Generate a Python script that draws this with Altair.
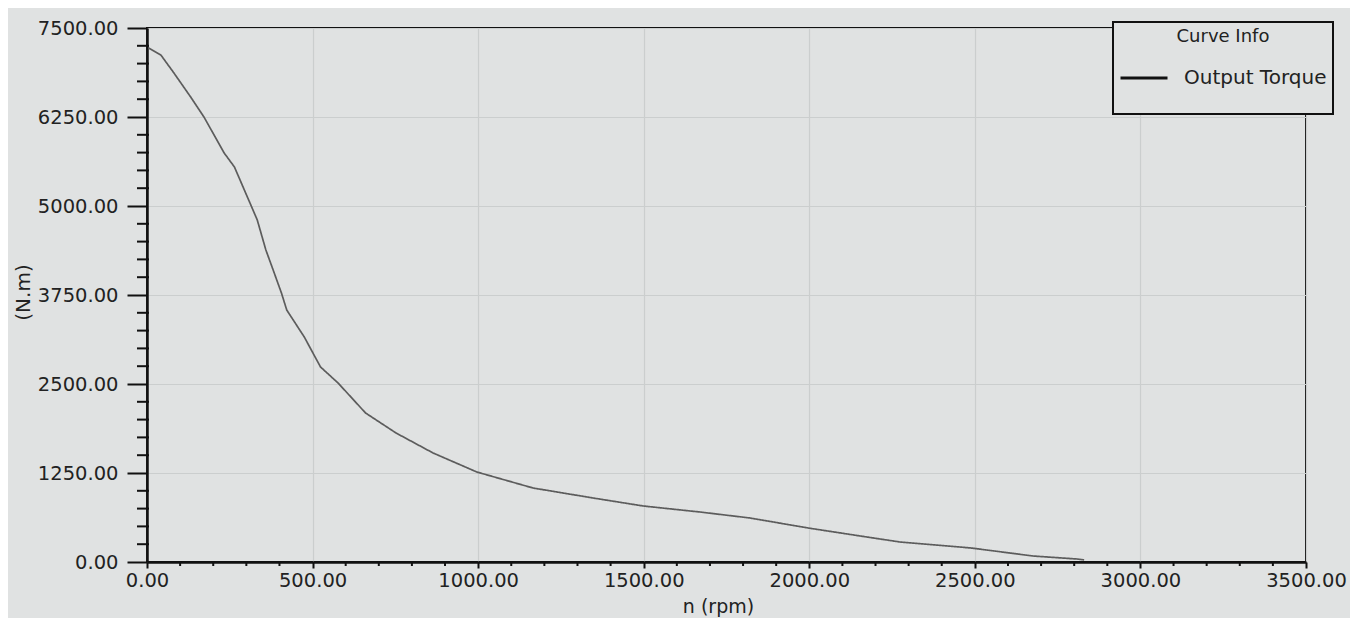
import altair as alt
import pandas as pd

# ---- data ----
rpm = [5, 42, 81, 132, 172, 233, 264, 311, 333, 359, 381, 406, 422, 475, 524, 577,
       660, 752, 864, 996, 1166, 1347, 1498, 1670, 1821, 1996, 2174, 2274, 2488,
       2676, 2808, 2830]
torque = [7220, 7120, 6870, 6530, 6250, 5745, 5548, 5042, 4803, 4382, 4101, 3778,
          3539, 3160, 2739, 2514, 2093, 1812, 1531, 1264, 1039, 899, 787, 702, 618,
          478, 351, 281, 197, 84, 42, 30]
series_name = "Output Torque"

x_major = [0, 500, 1000, 1500, 2000, 2500, 3000, 3500]
y_major = [0, 1250, 2500, 3750, 5000, 6250, 7500]
x_minor = [v for v in range(0, 3501, 100) if v % 500 != 0]
y_minor = [v for v in range(0, 7501, 250) if v % 1250 != 0]

df = pd.DataFrame({"rpm": rpm, "torque": torque, "series": [series_name] * len(rpm)})
dx = pd.DataFrame({"rpm": x_minor})
dy = pd.DataFrame({"torque": y_minor})

W, H = 1159, 534
FONT = "DejaVu Sans"

xscale = alt.Scale(domain=[0, 3500], nice=False, zero=False)
yscale = alt.Scale(domain=[0, 7500], nice=False, zero=False)

xaxis = alt.Axis(values=x_major, format=".2f", title="n (rpm)",
                 tickSize=6, tickWidth=2, tickColor="#111",
                 labelPadding=3, labelFontSize=19.5, labelFont=FONT,
                 labelColor="#222", labelFlush=False, labelOverlap=False,
                 titleFont=FONT, titleFontSize=19, titleFontWeight="normal",
                 titleColor="#222", titleX=571, titleY=44,
                 titleBaseline="middle", titleAlign="center",
                 domainColor="#111", domainWidth=2.5,
                 grid=True, gridColor="#cbcece", gridWidth=1.2)
yaxis = alt.Axis(values=y_major, format=".2f", title="(N.m)",
                 tickSize=20, tickWidth=2, tickColor="#111",
                 labelPadding=9, labelFontSize=19.5, labelFont=FONT,
                 labelColor="#222", labelFlush=False, labelOverlap=False,
                 titleFont=FONT, titleFontSize=20, titleFontWeight="normal",
                 titleColor="#222", titleX=-124, titleY=264,
                 titleBaseline="middle", titleAlign="center", titleAngle=270,
                 domainColor="#111", domainWidth=2.5,
                 grid=True, gridColor="#cbcece", gridWidth=1.2)

line = alt.Chart(df).mark_line(color="#5c5c5c", strokeWidth=1.7).encode(
    x=alt.X("rpm:Q", scale=xscale, axis=xaxis),
    y=alt.Y("torque:Q", scale=yscale, axis=yaxis),
    strokeDash=alt.StrokeDash(
        "series:N",
        scale=alt.Scale(domain=[series_name], range=[[1, 0]]),
        legend=alt.Legend(
            title="Curve Info", orient="none", legendX=966, legendY=-6,
            symbolType="stroke", symbolStrokeColor="#111", symbolStrokeWidth=3,
            symbolSize=2209, symbolOffset=0,
            labelFont=FONT, labelFontSize=20, labelColor="#222", labelOffset=15,
            titleFont=FONT, titleFontSize=18, titleFontWeight="normal",
            titleColor="#222", titleAnchor="middle", titlePadding=2,
            padding=6, strokeColor="#111", fillColor="#e0e2e2",
            clipHeight=60,
        ),
    ),
)

ytick_minor = alt.Chart(dy).mark_rule(color="#111", strokeWidth=2).encode(
    y=alt.Y("torque:Q", scale=yscale, axis=yaxis),
    x=alt.value(-10), x2=alt.value(2),
)
xtick_minor = alt.Chart(dx).mark_rule(color="#111", strokeWidth=2).encode(
    x=alt.X("rpm:Q", scale=xscale, axis=xaxis),
    y=alt.value(H - 1), y2=alt.value(H + 4),
)

chart = alt.layer(line, ytick_minor, xtick_minor).properties(
    width=W, height=H,
    autosize=alt.AutoSizeParams(type="none"),
    padding={"left": 139, "top": 20, "right": 44, "bottom": 56},
    background="#e0e2e2",
).configure_view(stroke="#111", strokeWidth=2, fill="#e0e2e2"
).configure_legend(strokeWidth=2)

chart.save("out.html", embed_options={"renderer": "svg", "actions": False})
